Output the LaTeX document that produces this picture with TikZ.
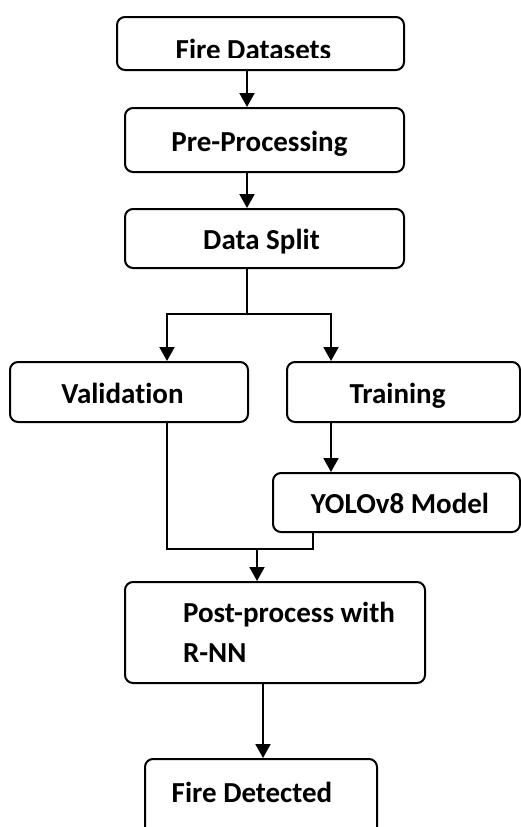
\documentclass[tikz,border=0pt]{standalone}
\usepackage{fontspec}
\setmainfont{Carlito}[Ligatures=NoCommon]
\usetikzlibrary{arrows.meta, positioning}

\begin{document}
\begin{tikzpicture}[
        x=1pt, y=-1pt,
        ->,
        >={Triangle[width=15pt,length=14pt]},
        line width=2pt,
        block/.style={draw, -, rounded corners=8pt, inner sep=0pt,
            font=\bfseries\fontsize{29}{34}\selectfont},
        onerow/.style={text height=24pt, text depth=2pt},
        boxtext/.style={inner sep=0pt, font=\bfseries\fontsize{29}{34}\selectfont}]

    \useasboundingbox (0,0) rectangle (521,827);
    \clip (0,0) rectangle (521,827);

    % main column
    \node[block, minimum width=287pt, minimum height=53pt] (datasets) at (260.5,43.5) {};
    \begin{scope}
        \clip (117,17) rectangle (404,57);
        \node[boxtext, anchor=base] (datasets text) at (253.5,59.5) {Fire Datasets};
    \end{scope}
    \node[block, onerow, minimum width=279pt, minimum height=64pt] (preproc) at (264.5,140)
        {Pre-Processing\hspace*{10pt}};
    \node[block, onerow, minimum width=279pt, minimum height=59pt] (split) at (264.5,238.5)
        {Data Split\hspace*{6pt}};

    % the two branches
    \node[block, onerow, minimum width=238pt, minimum height=60pt] (valid) at (129,392)
        {Validation\hspace*{13pt}};
    \node[block, onerow, minimum width=233pt, minimum height=60pt] (train) at (403.5,392)
        {Training\hspace*{12pt}};
    \node[block, onerow, minimum width=247pt, minimum height=59pt] (yolo) at (396.5,502.5)
        {\hspace*{7pt}YOLOv8 Model};

    % back to one column
    \node[block, minimum width=300pt, minimum height=101pt, align=left] (post) at (275,632.5)
        {\hspace*{28pt}Post-process with\\[6pt]\hspace*{28pt}R-NN};
    \node[block, minimum width=232pt, minimum height=90pt,
        text height=20pt, text depth=24pt] (detected) at (261,804) {Fire Detected\hspace*{18pt}};

    \coordinate (fork) at (247,314);
    \coordinate (merge) at (257,549);
    \coordinate (trainout) at ([xshift=-72.5pt]train.south);
    \coordinate (valout) at ([xshift=38pt]valid.south);
    \coordinate (postout) at ([xshift=-12pt]post.south);

    \draw (datasets.south -| fork) -- (preproc.north -| fork);
    \draw (preproc.south -| fork) -- (split.north -| fork);
    \draw (split.south -| fork) -- (fork) -| ([xshift=38pt]valid.north);
    \draw (fork) -| ([xshift=-72.5pt]train.north);
    \draw (trainout) -- (trainout |- yolo.north);
    \draw[-] (valout) |- (merge) -| ([xshift=-83.5pt]yolo.south);
    \draw (merge) -- (merge |- post.north);
    \draw (postout) -- (postout |- detected.north);

\end{tikzpicture}
\end{document}
